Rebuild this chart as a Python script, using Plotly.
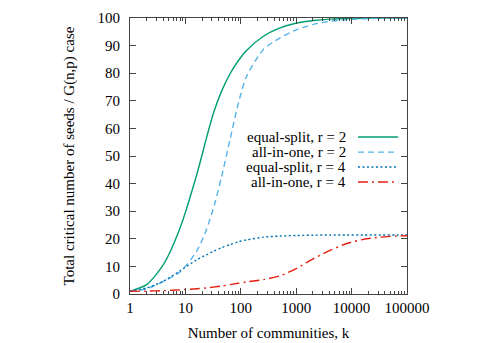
import plotly.graph_objects as go

k_values = [1, 2, 4, 8, 16, 24, 32, 45, 64, 90, 128, 256, 512, 1024, 2048,
            4096, 8192, 16384, 32768, 65536, 100000]

equal_split_r2 = [1.0, 3.4, 10.6, 23.9, 43.2, 56.5, 65.5, 73.5, 79.8, 84.5, 88.3,
                  93.4, 96.4, 98.2, 99.1, 99.6, 99.8, 99.9, 100.0, 100.0, 100.0]
all_in_one_r2 = [1.0, 1.9, 4.6, 8.0, 15.5, 23.4, 31.0, 42.5, 56.0, 69.0, 79.0,
                 88.6, 92.8, 95.8, 97.7, 98.8, 99.4, 99.7, 99.9, 100.0, 100.0]
equal_split_r4 = [1.0, 2.2, 4.6, 8.4, 12.4, 14.2, 15.5, 16.8, 17.9, 18.9, 19.6,
                  20.6, 21.0, 21.2, 21.3, 21.4, 21.4, 21.4, 21.4, 21.4, 21.4]
all_in_one_r4 = [1.0, 1.05, 1.2, 1.5, 1.9, 2.2, 2.5, 2.9, 3.4, 3.9, 4.4,
                 5.2, 6.6, 9.3, 12.8, 15.8, 18.3, 19.8, 20.6, 21.0, 21.1]

series_names = ["equal-split, r = 2", "all-in-one, r = 2",
                "equal-split, r = 4", "all-in-one, r = 4"]
series_values = [equal_split_r2, all_in_one_r2, equal_split_r4, all_in_one_r4]
series_colors = ["#009e73", "#56b4e9", "#0072b2", "#e51e10"]
series_dashes = ["solid", "6px,4px", "2px,2.5px", "10px,4px,2px,4px"]

x_tick_vals = [1, 10, 100, 1000, 10000, 100000]
x_tick_text = ["1", "10", "100", "1000", "10000", "100000"]

FONT = "Liberation Serif"
FRAME = "#444444"
AXFONT = dict(family=FONT, size=15, color="black")

fig = go.Figure()
for name, vals, col, dash in zip(series_names, series_values, series_colors, series_dashes):
    fig.add_trace(go.Scatter(x=k_values, y=vals, mode="lines", name=name,
                             line=dict(color=col, width=1.4, dash=dash, shape="spline", smoothing=0.7),
                             showlegend=False))

# legend emulation (text on the left, sample on the right)
leg_y = [0.569, 0.514, 0.460, 0.406]
for name, col, dash, yy in zip(series_names, series_colors, series_dashes, leg_y):
    fig.add_annotation(xref="paper", yref="paper", x=0.787, y=yy, text=name,
                       showarrow=False, xanchor="right", yanchor="middle",
                       font=AXFONT)
    fig.add_shape(type="line", xref="paper", yref="paper", x0=0.823, x1=0.968,
                  y0=yy, y1=yy, line=dict(color=col, width=1.4, dash=dash))

fig.update_layout(
    template="none",
    width=491, height=343,
    margin=dict(l=130, r=84, t=18, b=49),
    paper_bgcolor="white", plot_bgcolor="white",
    font=AXFONT,
)
fig.update_xaxes(
    type="log", range=[0, 5], automargin=False,
    tickmode="array", tickvals=x_tick_vals, ticktext=x_tick_text,
    tickfont=AXFONT,
    ticks="inside", ticklen=6, tickcolor=FRAME, tickwidth=1,
    minor=dict(ticks="inside", ticklen=3, tickcolor=FRAME, dtick="D1", showgrid=False),
    showline=True, linecolor=FRAME, linewidth=1, mirror="allticks",
    showgrid=False, zeroline=False,
    title=dict(text="Number of communities, k", standoff=12, font=AXFONT),
)
fig.update_yaxes(
    range=[0, 100], dtick=10, tick0=0, automargin=False,
    tickfont=AXFONT, ticklabelstandoff=6,
    ticks="inside", ticklen=6, tickcolor=FRAME, tickwidth=1,
    showline=True, linecolor=FRAME, linewidth=1, mirror="allticks",
    showgrid=False, zeroline=False,
    title=dict(text="Total critical number of seeds / G(n,p) case", standoff=19, font=AXFONT),
)

fig.write_html("out.html", config={"displayModeBar": False},
               post_script="document.body.style.margin='0';")
